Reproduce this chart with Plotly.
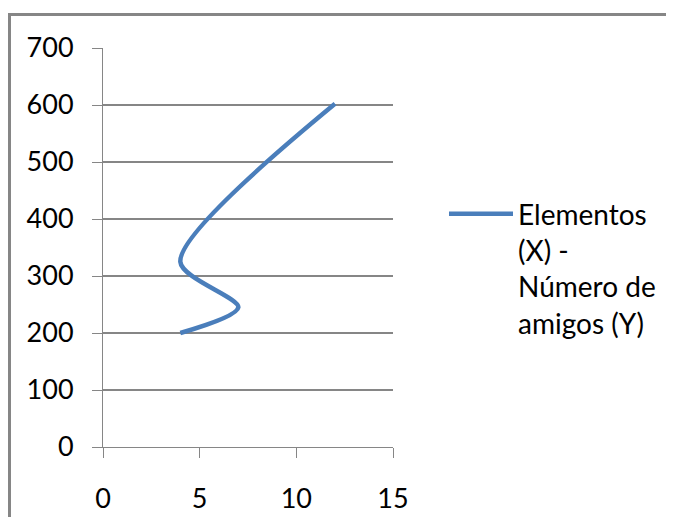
import plotly.graph_objects as go

# Data
elementos_x = [4, 7, 4, 12]
amigos_y = [200, 245, 325, 602]
series_name = "Elementos<br>(X) -<br>Número de<br>amigos (Y)"
x_ticks = [0, 5, 10, 15]
y_ticks = [0, 100, 200, 300, 400, 500, 600, 700]

# page has an 8px body margin; work in reference pixel coords and offset
OFF = 8
W, H = 674 - OFF, 517 - OFF
L, T = 103 - OFF, 48 - OFF
pw, ph = 290, 399
R, B = W - L - pw, H - T - ph

def px_x(p):
    return (p - OFF - L) / pw

def px_y(p):
    return (T + ph - (p - OFF)) / ph

fig = go.Figure()
fig.add_trace(go.Scatter(
    x=elementos_x, y=amigos_y, mode="lines", name=series_name,
    line=dict(color="#4A7EBB", width=4.5, shape="spline", smoothing=0.8),
    showlegend=True,
))

grey = "#868686"
font = dict(family="Lato, Carlito, Calibri, sans-serif", size=27, color="#000000")

fig.update_layout(
    width=W, height=H,
    margin=dict(l=L, r=R, t=T, b=B, pad=0, autoexpand=False),
    paper_bgcolor="white", plot_bgcolor="white",
    font=font,
    showlegend=True,
    legend=dict(
        x=px_x(444), y=px_y(189), xanchor="left", yanchor="top",
        itemwidth=64, valign="top",
        font=dict(family="Lato, Carlito, Calibri, sans-serif", size=28, color="#000000"),
        bgcolor="rgba(0,0,0,0)",
    ),
    xaxis=dict(
        range=[0, 15], tickvals=x_ticks, showgrid=False, zeroline=False,
        showline=True, linecolor=grey, linewidth=1,
        ticks="outside", ticklen=10, tickcolor=grey, tickwidth=1,
        ticklabelstandoff=18, fixedrange=True,
    ),
    yaxis=dict(
        range=[0, 700], tickvals=y_ticks, showgrid=True, gridcolor=grey, gridwidth=1.5,
        zeroline=False, showline=True, linecolor=grey, linewidth=1,
        ticks="outside", ticklen=10, tickcolor=grey, tickwidth=1,
        ticklabelstandoff=13, fixedrange=True,
    ),
    shapes=[
        dict(type="line", xref="paper", yref="paper",
             x0=px_x(9.5), x1=px_x(9.5), y0=px_y(13), y1=px_y(540),
             line=dict(color=grey, width=3)),
        dict(type="line", xref="paper", yref="paper",
             x0=px_x(8), x1=px_x(700), y0=px_y(14.5), y1=px_y(14.5),
             line=dict(color=grey, width=3)),
    ],
)

fig.write_html("out.html")
